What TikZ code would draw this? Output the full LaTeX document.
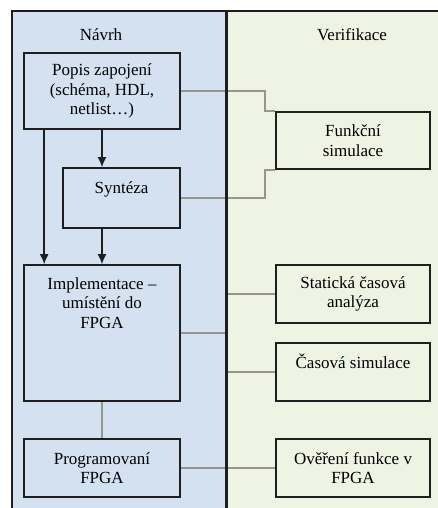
\documentclass[tikz,border=0pt]{standalone}
\usepackage{fontspec}
\setmainfont{Liberation Serif}
\usepackage{tikz}
\usetikzlibrary{arrows,arrows.meta,calc,positioning}
\definecolor{navrhbg}{RGB}{211,225,241}
\definecolor{verifbg}{RGB}{239,243,227}
\definecolor{framecol}{RGB}{30,30,30}
\definecolor{buscol}{RGB}{150,150,140}
\newcommand{\diagfont}{\fontsize{17}{19.5}\selectfont}
\tikzset{%
	block/.style    = {draw=framecol, line width=1.6pt, rectangle, align=center, inner sep=0pt},
	blocktext/.style = {align=center, inner sep=0pt},
	heading/.style  = {inner sep=0pt}, % column title
	waypoint/.style = {coordinate},
	arrow/.style    = {line width=1.6pt, draw=framecol, ->},
	bus/.style      = {line width=1.5pt, draw=buscol},
	frame/.style    = {line width=2.5pt, draw=framecol},
}

\begin{document}
\begin{tikzpicture}[x=1pt,y=-1pt,>={Latex[length=10pt,width=9pt]},font=\diagfont]
	\useasboundingbox (0,0) rectangle (438,508);
	% background of the two columns
	\fill[navrhbg] (12,11) rectangle (226,508);
	\fill[verifbg] (226,11) rectangle (438,508);
	\node [waypoint] (divtop) at (226,11) {};
	\node [waypoint] (divbot) at (226,508) {};

	\node [heading] (navrh) at (101,35) {Návrh};
	\node [heading] (verif) at (352,35) {Verifikace};

	% design side
	\node [block,minimum width=156pt,minimum height=76pt] (popis) at (102,91) {Popis zapojení\\(schéma, HDL,\\netlist…)};
	\node [block,minimum width=117pt,minimum height=60pt] (synteza) at (121.5,198) {};
	\node [blocktext,below=14pt of synteza.north] (syntezat) {Syntéza};
	\node [block,minimum width=156pt,minimum height=136pt] (impl) at (102,333) {};
	\node [blocktext,below=13pt of impl.north] (implt) {Implementace --\\umístění do\\FPGA};
	\node [block,minimum width=156pt,minimum height=58pt] (prog) at (102,468) {Programovaní\\FPGA};

	% verification side
	\node [block,minimum width=154pt,minimum height=57pt] (funkc) at (353,140.5) {Funkční\\simulace};
	\node [block,minimum width=154pt,minimum height=58pt] (stat) at (353,294) {Statická časová\\analýza};
	\node [block,minimum width=154pt,minimum height=58pt] (casova) at (353,372) {};
	\node [blocktext,below=11pt of casova.north] (casovat) {Časová simulace};
	\node [block,minimum width=154pt,minimum height=58pt] (over) at (353,468) {Ověření funkce v\\FPGA};

	\node [waypoint] (fs1) [left=10pt of funkc.north west] {};
	\node [waypoint] (fs2) [left=10pt of funkc.south west] {};

	\draw[bus] (popis.east) -| (fs1) -- (funkc.north west);
	\draw[bus] (synteza.east) -| (fs2) -- (funkc.south west);
	\draw[bus] (impl.south) -- (prog.north);
	\draw[bus] (impl.east) -- (impl.east -| divtop);
	\draw[bus] (prog.east) -- (prog.east -| divtop);
	\draw[bus] (stat.west -| divtop) -- (stat.west);
	\draw[bus] (casova.west -| divtop) -- (casova.west);
	\draw[bus] (over.west -| divtop) -- (over.west);

	\draw[arrow] (popis.south) -- (popis.south |- synteza.north);
	\draw[arrow] (synteza.south -| impl) -- (impl.north);
	\draw[arrow] ([xshift=21pt]popis.south west) -- ([xshift=21pt]impl.north west);

	% frame lines
	\draw[frame] (11,11) -- (438,11);
	\draw[frame] (12,11) -- (12,508);
	\draw[frame,line width=3pt] (divtop) -- (divbot);
\end{tikzpicture}
\end{document}
